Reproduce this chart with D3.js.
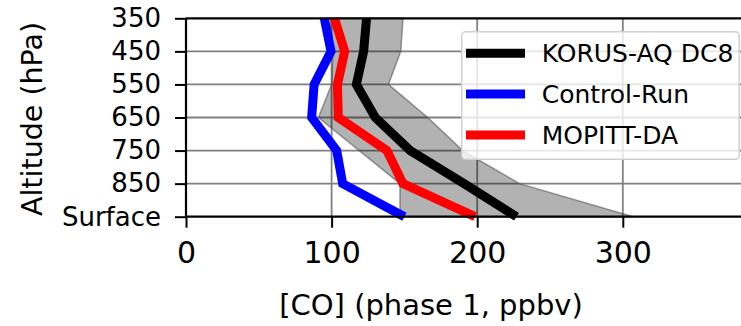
<!DOCTYPE html>
<html>
<head>
<meta charset="utf-8">
<script src="https://cdn.jsdelivr.net/npm/d3@7"></script>
<style>
  body { margin: 0; background: #fff; }
  text { font-family: "DejaVu Sans", sans-serif; fill: #000; }
</style>
</head>
<body>
<svg id="chart" width="741" height="326"></svg>
<script>
// pressure levels, top to bottom
var levels = ["350", "450", "550", "650", "750", "850", "Surface"];
var korus = [124, 122, 117, 130, 154, 191, 227];
var control = [95, 99.6, 88, 86.3, 103.5, 107.6, 150];
var mopitt = [102, 109, 104, 104.6, 138, 149, 198.5];
// spread of the aircraft observations
var bandLow = [99, 101, 100, 91, 119, 147, 147];
var bandHigh = [149, 147.5, 139, 166, 190, 229, 307];
var xTicks = [0, 100, 200, 300];

var series = [
  { name: "KORUS-AQ DC8", values: korus, color: "#000000" },
  { name: "Control-Run", values: control, color: "#0000ff" },
  { name: "MOPITT-DA", values: mopitt, color: "#ff0000" }
];

var svg = d3.select("#chart");
var plotLeft = 186, plotTop = 18.3, plotBottom = 216.7;

var x = d3.scaleLinear().domain([0, 385]).range([plotLeft, plotLeft + 385 * 1.456]);
var y = d3.scalePoint().domain(levels).range([plotTop, plotBottom]);

// grid
var grid = svg.append("g");
grid.selectAll("line.h")
  .data(levels.slice(1, -1))
  .enter().append("line")
  .attr("x1", plotLeft).attr("x2", 741)
  .attr("y1", (d) => y(d)).attr("y2", (d) => y(d))
  .attr("stroke", "#808080").attr("stroke-width", 1.8);
grid.selectAll("line.v")
  .data(xTicks.slice(1))
  .enter().append("line")
  .attr("x1", (d) => x(d)).attr("x2", (d) => x(d))
  .attr("y1", plotTop).attr("y2", plotBottom)
  .attr("stroke", "#808080").attr("stroke-width", 1.8);

// shaded range
var area = d3.area()
  .y((d, i) => y(levels[i]))
  .x0((d, i) => x(bandLow[i]))
  .x1((d, i) => x(bandHigh[i]));
svg.append("path")
  .attr("d", area(levels))
  .attr("fill", "#000").attr("fill-opacity", 0.3)
  .attr("stroke", "#555").attr("stroke-opacity", 0.6).attr("stroke-width", 1.5);

// lines
var line = d3.line()
  .x((d) => x(d))
  .y((d, i) => y(levels[i]));
svg.selectAll("path.series")
  .data(series)
  .enter().append("path")
  .attr("class", "series")
  .attr("d", (s) => line(s.values))
  .attr("fill", "none")
  .attr("stroke", (s) => s.color)
  .attr("stroke-width", 9)
  .attr("stroke-linejoin", "miter");

// axes
var xAxis = d3.axisBottom(x).tickValues(xTicks).tickSize(11).tickPadding(14);
var gx = svg.append("g").attr("transform", "translate(0," + plotBottom + ")").call(xAxis);
gx.select(".domain").remove();
gx.selectAll(".tick line").attr("stroke", "#000").attr("stroke-width", 2);
gx.selectAll(".tick text").attr("font-size", 30).attr("font-family", "DejaVu Sans").attr("fill", "#000");

var yAxis = d3.axisLeft(y).tickSize(11).tickPadding(14);
var gy = svg.append("g").attr("transform", "translate(" + plotLeft + ",0)").call(yAxis);
gy.select(".domain").remove();
gy.selectAll(".tick line").attr("stroke", "#000").attr("stroke-width", 2);
gy.selectAll(".tick text").attr("font-size", 26).attr("font-family", "DejaVu Sans").attr("fill", "#000");

// spines
svg.append("line").attr("x1", plotLeft).attr("x2", plotLeft).attr("y1", plotTop).attr("y2", plotBottom)
  .attr("stroke", "#000").attr("stroke-width", 2.2);
svg.append("line").attr("x1", plotLeft).attr("x2", 741).attr("y1", plotTop).attr("y2", plotTop)
  .attr("stroke", "#000").attr("stroke-width", 2.2);
svg.append("line").attr("x1", plotLeft).attr("x2", 741).attr("y1", plotBottom).attr("y2", plotBottom)
  .attr("stroke", "#000").attr("stroke-width", 2.2);

// axis titles
svg.append("text")
  .attr("x", 431).attr("y", 315)
  .attr("text-anchor", "middle")
  .attr("font-size", 29)
  .text("[CO] (phase 1, ppbv)");
svg.append("text")
  .attr("transform", "translate(42,119) rotate(-90)")
  .attr("text-anchor", "middle")
  .attr("font-size", 28.5)
  .text("Altitude (hPa)");

// legend
var lg = svg.append("g");
lg.append("rect")
  .attr("x", 461.7).attr("y", 31.7).attr("width", 277.5).attr("height", 127.6)
  .attr("rx", 4).attr("fill", "#fff").attr("fill-opacity", 0.8)
  .attr("stroke", "#d0d0d0").attr("stroke-width", 1.5);
var items = lg.selectAll("g.item")
  .data(series)
  .enter().append("g")
  .attr("transform", (s, i) => "translate(0," + (53.3 + i * 40.8) + ")");
items.append("line")
  .attr("x1", 466).attr("x2", 525)
  .attr("stroke", (s) => s.color).attr("stroke-width", 9);
items.append("text")
  .attr("x", 541.7).attr("dy", "0.35em")
  .attr("font-size", 25)
  .text((s) => s.name);
</script>
</body>
</html>
